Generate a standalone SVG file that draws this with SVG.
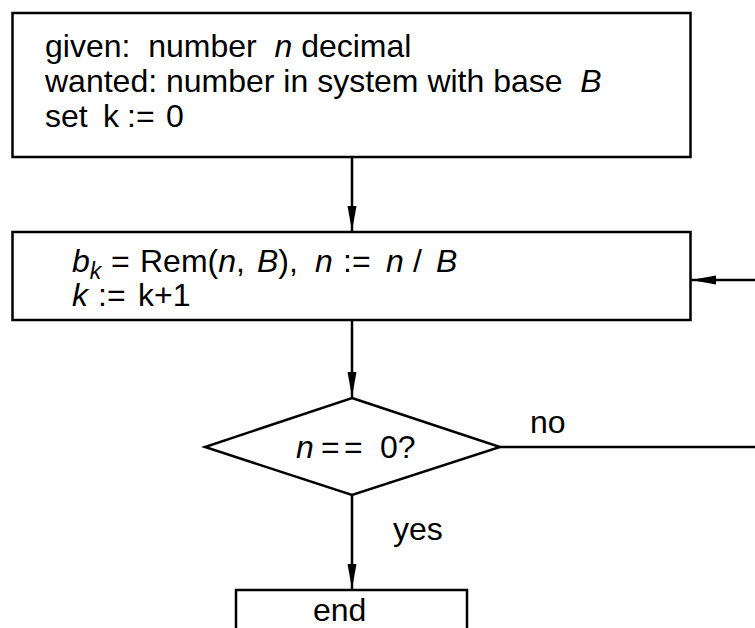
<svg xmlns="http://www.w3.org/2000/svg" width="755" height="628" viewBox="0 0 755 628">
<defs>
<style>
.box{fill:#fff;stroke:#000;stroke-width:2.5}
.ln{fill:none;stroke:#000;stroke-width:2.5}
text{font-family:"Liberation Sans",Arial,Helvetica,sans-serif;font-size:32px;fill:#000}
.it{font-style:italic}
.sub{font-style:italic;font-size:23px}
</style>
<marker id="ah" markerUnits="userSpaceOnUse" markerWidth="26" markerHeight="10" refX="25" refY="4.5" orient="auto">
<path d="M0,0 L25,4.5 L0,9 z" fill="#000"/>
</marker>
</defs>
<rect width="755" height="628" fill="#fff"/>
<g id="connectors">
<path class="ln" d="M352,157 V231" marker-end="url(#ah)"/>
<path class="ln" d="M352,320 V397" marker-end="url(#ah)"/>
<path class="ln" d="M352,495 V589" marker-end="url(#ah)"/>
<path class="ln" d="M500,447 H758 V280 H691" marker-end="url(#ah)"/>
<text x="530" y="433">no</text>
<text x="393" y="540">yes</text>
</g>
<g id="start">
<rect class="box" x="12.5" y="13" width="678" height="144"/>
<text x="45" y="57" xml:space="preserve">given:  number  <tspan class="it">n</tspan> decimal</text>
<text x="45" y="92" xml:space="preserve">wanted: number in system with base  <tspan class="it">B</tspan></text>
<text x="45" y="127"><tspan>set</tspan><tspan x="103">k</tspan><tspan x="127">:=</tspan><tspan x="166">0</tspan></text>
</g>
<g id="step">
<rect class="box" x="12.5" y="232" width="678" height="88"/>
<text x="72" y="272"><tspan class="it">b</tspan><tspan class="sub" dy="7">k</tspan><tspan x="111" dy="-7">=</tspan><tspan x="140">Rem(</tspan><tspan class="it">n</tspan><tspan>,</tspan><tspan class="it" x="257">B</tspan><tspan>),</tspan><tspan class="it" x="315">n</tspan><tspan x="343">:=</tspan><tspan class="it" x="386">n</tspan><tspan x="413">/</tspan><tspan class="it" x="436">B</tspan></text>
<text x="72" y="306"><tspan class="it">k</tspan><tspan x="98">:=</tspan><tspan x="138">k+1</tspan></text>
</g>
<g id="decision">
<polygon class="box" points="352,398 500,447 352,495 205,447"/>
<text x="296" y="458"><tspan class="it">n</tspan><tspan x="321">=</tspan><tspan x="344">=</tspan><tspan x="380">0?</tspan></text>
</g>
<g id="end">
<rect class="box" x="236" y="590" width="231" height="70"/>
<text x="313" y="621">end</text>
</g>
</svg>
